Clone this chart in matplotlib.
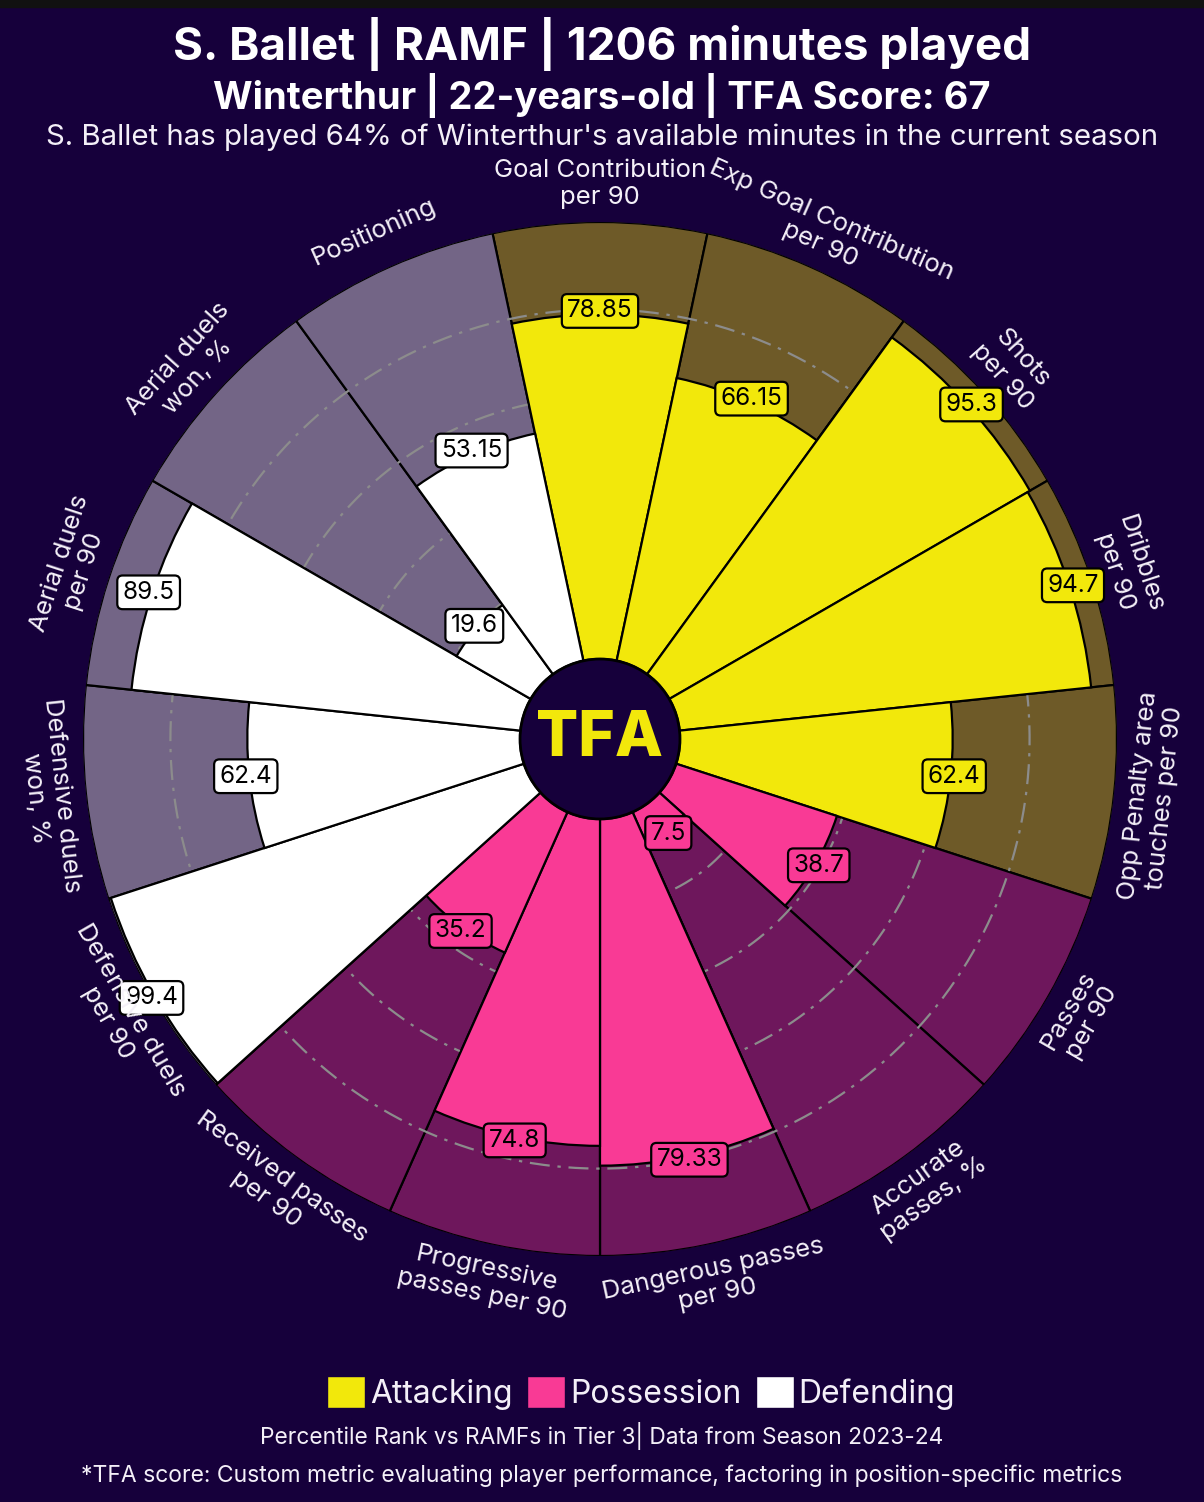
import matplotlib
matplotlib.use('Agg')
import matplotlib.pyplot as plt
from matplotlib.patches import Patch, Circle, Rectangle
import numpy as np

# chart data, clockwise from the top
params = [
    "Goal Contribution\nper 90", "Exp Goal Contribution\nper 90", "Shots\nper 90",
    "Dribbles\nper 90", "Opp Penalty area\ntouches per 90",
    "Passes\nper 90", "Accurate\npasses, %", "Dangerous passes\nper 90",
    "Progressive\npasses per 90", "Received passes\nper 90",
    "Defensive duels\nper 90", "Defensive duels\nwon, %", "Aerial duels\nper 90",
    "Aerial duels\nwon, %", "Positioning",
]
values = [78.85, 66.15, 95.3, 94.7, 62.4,
          38.7, 7.5, 79.33, 74.8, 35.2,
          99.4, 62.4, 89.5, 19.6, 53.15]
groups = ["Attacking"] * 5 + ["Possession"] * 5 + ["Defending"] * 5
legend_labels = ["Attacking", "Possession", "Defending"]
grid_levels = [20, 40, 60, 80]

BG = '#16003B'
slice_col = {"Attacking": '#F2E80B', "Possession": '#F93A95', "Defending": '#FFFFFF'}
back_col = {"Attacking": '#6E5A28', "Possession": '#6E175C', "Defending": '#736586'}

plt.rcParams['font.family'] = ['Inter', 'DejaVu Sans']

fig = plt.figure(figsize=(12.04, 15.02), dpi=100, facecolor=BG)
fig.patches.append(Rectangle((0, 1 - 7 / 1502), 1, 7 / 1502, transform=fig.transFigure,
                             color='#111111', zorder=0))

ax = fig.add_axes([83 / 1204, 246 / 1502, 1034 / 1204, 1034 / 1502], projection='polar')
ax.set_theta_zero_location('N')
ax.set_theta_direction(-1)

HOLE = 18.3  # centre hole, in percentile units
n = len(params)
theta = np.arange(n) * 2 * np.pi / n
width = 2 * np.pi / n

ax.bar(theta, 100, width=width, bottom=HOLE, color=[back_col[g] for g in groups],
       edgecolor='black', linewidth=1.6, zorder=1)
circ = np.linspace(0, 2 * np.pi, 500)
for lvl in grid_levels:
    ax.plot(circ, np.full(circ.shape, HOLE + lvl), color='#8C8C8C', lw=1.6,
            ls=(0, (9, 3.5, 1.5, 3.5)), zorder=2)
ax.bar(theta, values, width=width, bottom=HOLE, color=[slice_col[g] for g in groups],
       edgecolor='black', linewidth=1.6, zorder=3)
ax.set_ylim(0, HOLE + 100)
ax.axis('off')

# centre circle with logo
ax.add_patch(Circle((0.5, 0.5), HOLE / (2 * (HOLE + 100)), transform=ax.transAxes,
                    facecolor=BG, edgecolor='black', lw=2, zorder=5))
ax.text(0.5, 0.5, 'TFA', transform=ax.transAxes, ha='center', va='center',
        color='#F2E80B', fontsize=45, fontweight='heavy', zorder=6)

# value boxes
for t, v, g in zip(theta, values, groups):
    ax.text(t, HOLE + v + 0.8, f'{v:g}', ha='center', va='center', fontsize=17.5, color='black',
            zorder=7, bbox=dict(boxstyle='round,pad=0.22', fc=slice_col[g], ec='black', lw=1.6))

# parameter labels
for t, p in zip(theta, params):
    deg = np.degrees(t)
    if deg <= 90:
        rot = -deg
    elif deg < 270:
        rot = 180 - deg
    else:
        rot = 360 - deg
    ax.text(t, 127, p, rotation=rot, rotation_mode='anchor', ha='center', va='center',
            color='#F4F0F8', fontsize=18.5, zorder=7)

fig.text(0.5, 1 - 44 / 1502, 'S. Ballet | RAMF | 1206 minutes played', ha='center', va='center',
         color='white', fontsize=33, fontweight='bold')
fig.text(0.5, 1 - 95 / 1502, 'Winterthur | 22-years-old | TFA Score: 67', ha='center', va='center',
         color='white', fontsize=27.5, fontweight='bold')
fig.text(0.5, 1 - 137 / 1502,
         "S. Ballet has played 64% of Winterthur's available minutes in the current season",
         ha='center', va='center', color='#F4F0F8', fontsize=21.2)

handles = [Patch(facecolor=slice_col[l], edgecolor=BG) for l in legend_labels]
fig.legend(handles, legend_labels, loc='center', bbox_to_anchor=(641 / 1204, 1 - 1393 / 1502), ncol=3,
           frameon=False, fontsize=23, labelcolor='#F4F0F8', handlelength=1.2, handleheight=1.15,
           handletextpad=0.15, columnspacing=0.45)

fig.text(0.5, 1 - 1436 / 1502, 'Percentile Rank vs RAMFs in Tier 3| Data from Season 2023-24',
         ha='center', va='center', color='#F4F0F8', fontsize=16.4)
fig.text(0.5, 1 - 1476 / 1502,
         '*TFA score: Custom metric evaluating player performance, factoring in position-specific metrics',
         ha='center', va='center', color='#F4F0F8', fontsize=16.5)

fig.savefig('out.png', dpi=100, facecolor=BG)
